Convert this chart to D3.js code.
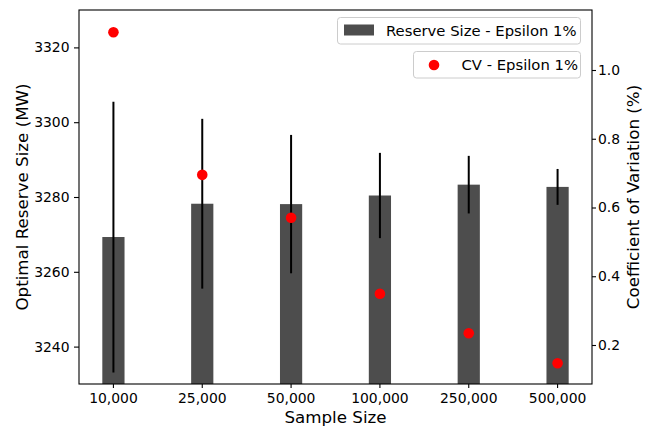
<!DOCTYPE html>
<html>
<head>
<meta charset="utf-8">
<script src="https://cdn.jsdelivr.net/npm/d3@7"></script>
<style>
    body { margin: 0; background: #fff; }
    svg { display: block; font-family: 'DejaVu Sans', sans-serif; }
</style>
</head>
<body>
<svg id="chart" width="651" height="427"></svg>
<script>
// data
var categories = ['10,000', '25,000', '50,000', '100,000', '250,000', '500,000'];
var reserveSize = [3269.3, 3278.2, 3278.1, 3280.4, 3283.3, 3282.7];
var reserveErr = [36.2, 22.7, 18.5, 11.4, 7.7, 4.8];
var cvValues = [1.11, 0.695, 0.57, 0.349, 0.234, 0.147];
var leftTicks = [3240, 3260, 3280, 3300, 3320];
var rightTicks = [0.2, 0.4, 0.6, 0.8, 1.0];

// plot box ("top" is taken by window, so prefixed names)
var pLeft = 79, pRight = 592, pTop = 10, pBottom = 384;

var svg = d3.select('#chart');

var x = d3.scaleBand()
    .domain(categories)
    .range([pLeft, pRight])
    .paddingInner(0.75)
    .paddingOuter(0.2625);

var y = d3.scaleLinear().domain([3230, 3330]).range([pBottom, pTop]);
var y2 = d3.scaleLinear().domain([0.08655, 1.17455]).range([pBottom, pTop]);

svg.append('defs')
    .append('clipPath')
    .attr('id', 'plotClip')
    .append('rect')
    .attr('x', pLeft)
    .attr('y', pTop)
    .attr('width', pRight - pLeft)
    .attr('height', pBottom - pTop);

var plot = svg.append('g').attr('clip-path', 'url(#plotClip)');

// bars
plot.selectAll('rect.bar')
    .data(reserveSize)
    .enter()
    .append('rect')
    .attr('class', 'bar')
    .attr('x', (d, i) => x(categories[i]))
    .attr('width', x.bandwidth())
    .attr('y', d => y(d))
    .attr('height', d => pBottom + 10 - y(d))
    .attr('fill', '#4d4d4d');

// error bars
plot.selectAll('line.err')
    .data(reserveSize)
    .enter()
    .append('line')
    .attr('class', 'err')
    .attr('x1', (d, i) => x(categories[i]) + x.bandwidth() / 2)
    .attr('x2', (d, i) => x(categories[i]) + x.bandwidth() / 2)
    .attr('y1', (d, i) => y(d + reserveErr[i]))
    .attr('y2', (d, i) => y(d - reserveErr[i]))
    .attr('stroke', '#000')
    .attr('stroke-width', 2);

// cv points
plot.selectAll('circle.cv')
    .data(cvValues)
    .enter()
    .append('circle')
    .attr('class', 'cv')
    .attr('cx', (d, i) => x(categories[i]) + x.bandwidth() / 2)
    .attr('cy', d => y2(d))
    .attr('r', 5.3)
    .attr('fill', '#ff0000');

// axes
var fontSize = '13.9px';

var gx = svg.append('g')
    .attr('transform', `translate(0,${pBottom})`)
    .call(d3.axisBottom(x).tickSize(4).tickPadding(5.5).tickSizeOuter(0));

var gy = svg.append('g')
    .attr('transform', `translate(${pLeft},0)`)
    .call(d3.axisLeft(y).tickValues(leftTicks).tickFormat(d3.format('d')).tickSize(5).tickPadding(4.5).tickSizeOuter(0));

var gy2 = svg.append('g')
    .attr('transform', `translate(${pRight},0)`)
    .call(d3.axisRight(y2).tickValues(rightTicks).tickFormat(d3.format('.1f')).tickSize(4).tickPadding(2).tickSizeOuter(0));

[gx, gy, gy2].forEach(function (g) {
    g.selectAll('text')
        .attr('fill', '#000')
        .style('font-size', fontSize)
        .style('font-family', "'DejaVu Sans', sans-serif");
    g.selectAll('.tick line').attr('stroke', '#000').attr('stroke-width', 1.1);
    g.select('.domain').remove();
});

// spines
svg.append('rect')
    .attr('x', pLeft)
    .attr('y', pTop)
    .attr('width', pRight - pLeft)
    .attr('height', pBottom - pTop)
    .attr('fill', 'none')
    .attr('stroke', '#000')
    .attr('stroke-width', 1.1);

// axis labels
var labelSize = '16.7px';

svg.append('text')
    .text('Sample Size')
    .attr('x', (pLeft + pRight) / 2)
    .attr('y', 423)
    .attr('text-anchor', 'middle')
    .style('font-size', labelSize);

svg.append('text')
    .text('Optimal Reserve Size (MW)')
    .attr('transform', `translate(28,${(pTop + pBottom) / 2}) rotate(-90)`)
    .attr('text-anchor', 'middle')
    .style('font-size', labelSize);

svg.append('text')
    .text('Coefficient of Variation (%)')
    .attr('transform', `translate(639,${(pTop + pBottom) / 2}) rotate(-90)`)
    .attr('text-anchor', 'middle')
    .style('font-size', labelSize);

// legends
var legendSize = '14.8px';

var legend1 = svg.append('g');
legend1.append('rect')
    .attr('x', 337.5)
    .attr('y', 17.5)
    .attr('width', 243)
    .attr('height', 26.5)
    .attr('rx', 3)
    .attr('fill', '#fff')
    .attr('fill-opacity', 0.8)
    .attr('stroke', '#cccccc');
legend1.append('rect')
    .attr('x', 344)
    .attr('y', 24.5)
    .attr('width', 30)
    .attr('height', 11)
    .attr('fill', '#4d4d4d');
legend1.append('text')
    .text('Reserve Size - Epsilon 1%')
    .attr('x', 386)
    .attr('y', 35.5)
    .style('font-size', legendSize);

var legend2 = svg.append('g');
legend2.append('rect')
    .attr('x', 413.5)
    .attr('y', 51.5)
    .attr('width', 167)
    .attr('height', 26.5)
    .attr('rx', 3)
    .attr('fill', '#fff')
    .attr('fill-opacity', 0.8)
    .attr('stroke', '#cccccc');
legend2.append('circle')
    .attr('cx', 434)
    .attr('cy', 65)
    .attr('r', 5.3)
    .attr('fill', '#ff0000');
legend2.append('text')
    .text('CV - Epsilon 1%')
    .attr('x', 461.5)
    .attr('y', 69.5)
    .style('font-size', legendSize);
</script>
</body>
</html>
